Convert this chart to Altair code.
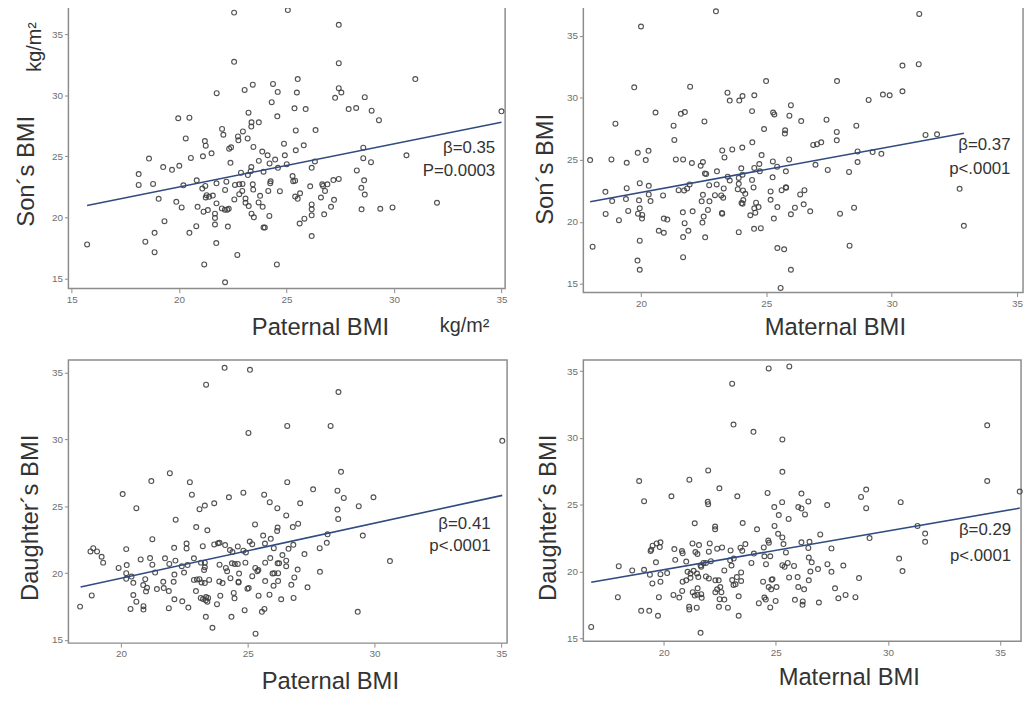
import altair as alt
import pandas as pd

FONT = "Liberation Sans"

# ---------------- Panel 1: Paternal BMI vs Son's BMI ----------------
p1_x = [22.56,25.06,27.43,22.56,27.43,25.52,30.99,21.75,23.05,23.43,
        24.37,24.59,25.48,27.43,27.55,27.26,28.64,24.31,25.37,25.89,
        27.89,28.24,28.96,35.0,23.23,19.96,20.48,24.57,29.3,22.0,
        23.37,23.71,23.36,22.06,22.74,23.19,22.97,25.43,26.35,20.31,
        21.2,22.76,24.88,25.8,21.24,23.46,22.42,22.33,21.51,28.57,
        23.87,24.12,24.92,25.43,18.6,20.55,21.11,30.58,23.71,24.47,
        28.57,28.93,26.32,22.39,24.21,25.01,19.26,19.67,20.01,24.6,
        23.36,26.17,23.33,23.93,18.12,28.27,22.88,23.2,25.28,27.43,
        27.18,28.61,20.82,22.2,25.31,24.26,25.4,18.12,18.79,20.2,
        21.08,21.22,21.74,22.6,22.8,22.95,23.43,24.24,23.45,22.14,
        22.94,22.8,24.15,24.69,26.1,26.66,26.7,26.9,26.79,28.48,
        25.63,28.64,21.28,21.4,21.57,21.24,22.57,23.09,23.77,25.4,
        25.52,26.6,19.05,27.21,19.87,21.74,23.09,23.24,23.7,26.17,
        20.12,20.86,23.89,27.07,29.93,29.36,32.0,28.49,21.14,21.34,
        21.99,22.13,22.24,22.31,26.17,21.67,23.37,24.2,26.17,26.75,
        21.67,23.48,25.83,19.32,25.61,20.8,21.67,22.27,23.93,23.99,
        18.86,20.48,26.17,18.43,21.73,15.72,18.86,22.71,21.17,24.55,22.14]
p1_y = [36.76,36.97,35.76,32.73,32.62,31.32,31.32,30.16,30.43,30.86,
        30.92,30.27,30.22,30.57,30.22,29.78,29.84,29.43,28.92,28.86,
        28.86,28.95,28.73,28.68,28.57,28.11,28.16,28.27,27.95,27.24,
        27.78,27.78,27.43,26.76,26.62,26.46,27.03,27.11,27.14,26.46,
        26.24,26.3,26.03,25.89,25.86,25.76,25.73,25.62,25.24,25.7,
        25.38,25.08,25.08,25.49,24.81,24.86,25.0,25.08,24.62,24.73,
        24.84,24.51,24.57,24.46,24.41,24.35,24.11,23.89,24.22,24.05,
        24.11,24.05,23.78,23.73,23.54,23.84,23.65,23.46,23.38,23.14,
        23.05,23.03,23.03,22.92,22.95,22.95,23.0,22.65,22.73,22.62,
        22.35,22.57,22.78,22.65,22.7,22.73,22.7,22.78,22.27,22.24,
        22.16,21.89,22.16,22.14,22.54,22.7,22.57,22.7,22.16,22.41,
        21.97,21.86,21.81,21.68,21.78,21.62,21.46,21.54,21.76,21.7,
        21.51,21.62,21.51,21.43,21.27,21.14,21.19,20.92,21.22,21.05,
        20.81,20.86,20.86,20.86,20.81,20.7,21.19,20.65,20.46,20.59,
        20.73,20.62,20.62,20.7,20.65,20.3,20.3,20.11,20.16,20.24,
        19.95,20.0,19.89,19.68,19.49,19.27,19.41,19.24,19.16,19.16,
        18.73,18.73,18.46,18.0,17.89,17.78,17.14,16.92,16.14,16.14,14.68]
p1_line_x = [15.72, 35.0]
p1_line_y = [20.97, 27.78]
p1_ann = ["β=0.35", "P=0.0003"]
p1_ann_x = [34.71, 34.71]
p1_ann_y = [25.67, 23.78]

# ---------------- Panel 2: Maternal BMI vs Son's BMI ----------------
p2_x = [22.99,20.0,31.1,30.43,31.08,19.73,21.96,24.99,27.82,23.45,
        24.05,24.52,23.54,23.92,29.08,29.65,29.92,30.43,25.98,20.58,
        21.59,21.75,24.43,25.27,25.32,25.92,26.39,27.4,18.98,22.53,
        21.3,24.91,25.75,25.74,28.59,27.81,31.35,31.81,21.33,27.81,
        24.44,26.87,27.02,27.19,23.64,24.04,19.87,20.3,23.24,23.33,
        24.81,28.64,29.24,29.59,17.97,18.82,19.43,20.19,21.39,21.68,
        22.03,22.47,22.38,24.72,25.26,25.91,24.52,24.74,25.43,25.78,
        28.64,26.96,27.45,28.3,23.03,22.55,22.6,23.46,24.0,23.9,
        24.05,25.25,24.43,23.9,23.54,19.95,20.31,21.94,23.02,22.72,
        21.84,21.72,21.5,19.43,23.3,23.86,24.49,25.61,25.78,25.79,
        26.52,26.35,25.17,24.07,24.16,18.58,20.31,32.71,22.47,23.2,
        22.95,23.28,19.4,18.85,19.92,20.38,22.42,22.73,24.08,24.05,
        24.01,24.59,25.17,25.44,24.52,24.69,26.14,26.49,28.5,22.67,
        22.06,21.67,19.49,19.95,19.88,18.59,20.05,20.04,20.88,20.91,
        21.05,19.12,22.5,22.45,23.23,23.24,24.36,24.56,25.3,25.98,
        26.75,27.94,21.74,20.71,20.91,21.89,23.9,24.51,24.78,32.88,
        19.95,21.68,22.56,18.07,28.32,25.44,25.71,21.68,19.86,19.95,25.98,25.57]
p2_y = [36.97,35.75,36.76,32.6,32.71,30.85,30.9,31.35,31.35,30.42,
        30.15,30.21,29.78,29.78,29.83,30.26,30.21,30.53,29.41,28.82,
        28.71,28.85,28.93,28.82,28.66,28.56,28.13,28.24,27.92,28.1,
        27.76,27.49,27.38,27.12,27.76,27.25,27.01,27.06,26.61,26.58,
        26.42,26.21,26.27,26.42,25.84,26.0,25.57,25.73,25.76,25.2,
        25.39,25.68,25.63,25.49,24.99,25.04,24.77,24.99,25.04,25.04,
        24.75,24.83,24.53,24.67,24.88,25.04,24.35,24.08,24.45,24.08,
        24.83,24.61,24.19,24.03,24.08,23.9,23.87,23.65,24.32,23.55,
        23.81,23.6,23.39,23.07,23.34,23.12,22.91,23.02,23.02,22.96,
        22.7,22.54,22.56,22.72,22.7,22.64,22.78,22.56,22.8,22.75,
        22.56,22.22,22.46,22.54,22.27,22.43,22.22,22.67,22.19,22.14,
        22.16,21.95,21.84,21.68,21.74,21.68,21.66,21.66,21.76,21.47,
        21.52,21.55,21.79,21.2,21.1,21.2,21.15,21.42,21.15,20.97,
        20.86,20.78,20.89,21.1,20.67,20.65,20.57,20.27,22.14,20.27,
        20.19,20.14,20.43,19.95,20.73,20.67,20.54,20.75,20.27,20.62,
        20.86,20.67,19.9,19.29,19.13,19.29,19.18,19.45,19.5,19.69,
        18.49,18.78,18.76,18.01,18.09,17.9,17.8,17.16,16.89,16.15,16.15,14.68]
p2_line_x = [17.97, 32.88]
p2_line_y = [21.63, 27.14]
p2_ann = ["β=0.37", "p<.0001"]
p2_ann_x = [34.74, 34.74]
p2_ann_y = [26.17, 24.27]

# ---------------- Panel 3: Paternal BMI vs Daughter's BMI ----------------
p3_x = [24.09,25.09,23.36,28.58,26.56,28.27,25.03,35.04,21.93,28.68,
        21.2,22.72,26.56,20.07,22.8,24.83,27.58,28.54,25.65,24.26,
        28.79,29.96,23.68,25.87,27.07,29.38,23.31,23.1,20.61,26.17,
        28.54,26.52,28.57,22.16,22.97,25.29,26.18,26.78,26.99,23.41,
        26.16,29.54,21.24,25.61,28.15,25.08,22.59,23.68,23.83,23.89,
        24.11,24.61,23.23,25.18,25.68,25.91,26.03,26.8,28.12,27.84,
        20.21,22.1,22.59,24.3,24.4,24.83,24.93,26.61,18.8,18.91,
        19.06,19.24,19.3,27.24,26.37,25.89,26.52,20.78,21.15,21.74,
        22.15,22.88,23.16,21.24,21.91,22.4,22.63,20.23,19.91,23.31,
        23.31,23.28,23.89,24.38,24.14,24.49,24.61,24.91,25.3,25.69,
        26.18,26.24,26.52,26.97,27.85,20.21,20.42,21.35,22.11,22.49,
        24.19,24.66,25.38,25.42,25.98,26.05,26.2,20.21,20.96,21.67,
        22.08,22.88,23.0,23.1,23.18,23.31,23.48,23.88,24.01,24.32,
        24.64,24.64,25.18,25.69,26.2,26.72,26.84,20.49,20.88,21.03,
        20.99,21.42,21.69,21.89,22.96,24.99,25.04,24.45,26.02,27.36,
        18.85,20.49,23.92,24.48,25.43,25.86,23.15,23.24,23.36,23.44,
        23.35,23.41,26.81,26.32,20.61,22.11,22.42,23.79,18.39,22.66,
        20.38,20.89,20.89,21.89,24.88,25.56,25.66,29.34,30.61,23.35,24.36,23.61,25.31]
p3_y = [35.35,35.2,34.09,33.54,31.0,31.0,30.48,29.89,27.47,27.57,
        26.88,26.8,26.8,25.91,25.86,26.01,26.26,26.16,25.86,25.67,
        25.62,25.67,25.22,25.3,25.22,25.0,25.05,24.78,24.85,24.85,
        24.75,24.31,24.04,23.99,23.44,23.64,23.4,23.44,23.69,23.2,
        23.15,22.8,22.53,22.8,22.9,22.36,22.21,22.14,22.23,22.26,
        22.09,21.99,22.01,22.16,22.21,22.56,21.86,22.11,22.26,21.86,
        21.79,21.89,21.84,21.72,21.57,21.67,21.54,21.81,21.62,21.86,
        21.62,21.22,20.78,21.42,21.35,21.12,20.93,21.02,21.12,21.1,
        20.93,21.1,20.78,20.63,20.68,20.51,20.6,20.6,20.38,20.78,
        20.43,20.23,20.63,20.73,20.38,20.68,20.68,20.78,20.38,20.78,
        20.73,20.73,20.51,20.26,20.09,19.99,19.74,20.04,19.89,20.04,
        20.14,19.96,20.14,20.23,19.96,19.99,19.99,19.57,19.54,19.35,
        19.35,19.49,19.52,19.54,19.3,19.25,19.49,19.37,19.25,19.62,
        19.35,19.3,19.77,19.4,19.4,19.12,19.67,19.27,19.1,18.9,
        18.63,18.8,18.88,18.65,18.65,18.83,18.88,18.51,19.05,18.93,
        18.33,18.36,18.31,18.11,18.31,18.38,18.14,18.06,18.21,18.14,
        17.96,17.86,18.14,18.04,17.86,18.04,17.89,17.67,17.49,17.42,
        17.32,17.52,17.27,17.37,17.22,17.1,17.32,17.1,20.9,16.73,16.73,15.91,15.47]
p3_line_x = [18.41, 35.04]
p3_line_y = [18.95, 25.81]
p3_ann = ["β=0.41", "p<.0001"]
p3_ann_x = [34.58, 34.58]
p3_ann_y = [23.64, 21.99]

# ---------------- Panel 4: Maternal BMI vs Daughter's BMI ----------------
p4_x = [24.68,25.6,23.05,23.11,24.0,34.43,25.29,25.29,21.98,18.9,
        21.14,34.43,22.48,35.88,29.03,20.34,23.28,24.63,26.14,28.8,
        19.12,21.96,21.98,25.28,26.45,27.29,30.57,24.93,26.0,26.14,
        26.3,25.13,25.57,29.03,21.38,23.52,22.29,22.29,24.16,24.94,
        31.32,31.66,31.66,26.98,25.1,25.29,29.18,24.66,24.69,25.34,
        26.14,26.5,26.45,27.48,19.5,19.68,19.85,19.82,19.44,19.41,
        20.47,20.81,20.84,21.28,21.57,22.05,22.38,22.6,22.98,23.42,
        23.64,23.5,21.41,21.5,22.01,24.02,24.46,24.49,24.75,25.45,
        25.53,26.47,26.6,27.3,28.01,30.5,30.65,20.51,21.0,19.65,
        17.99,18.59,19.12,19.38,19.85,20.15,21.06,21.19,21.33,21.48,
        21.64,21.67,21.77,21.88,22.1,22.7,22.96,23.02,23.12,23.45,
        23.91,24.56,25.29,25.39,25.81,26.54,26.88,27.48,19.49,19.85,
        21.54,21.0,21.19,21.88,22.01,22.3,22.45,23.05,23.26,23.45,
        23.11,23.2,24.43,24.81,24.85,25.59,25.97,26.47,28.71,20.84,
        20.43,20.69,17.95,19.78,21.29,21.38,21.5,21.67,21.51,20.82,
        21.69,22.3,22.38,22.52,22.57,22.49,22.7,23.34,24.49,24.55,
        24.68,24.79,24.99,25.03,25.85,26.0,26.26,26.2,26.19,26.92,
        27.64,27.79,28.11,28.55,24.24,24.75,22.46,22.86,21.13,21.14,
        21.47,18.99,19.35,19.74,23.34,16.76,21.64]
p4_y = [35.2,35.35,34.06,31.0,30.46,30.95,29.89,27.47,27.57,26.78,
        26.88,26.78,26.23,25.99,26.14,25.64,25.64,25.89,25.84,25.59,
        25.27,25.22,25.05,25.2,25.25,24.98,25.2,24.83,24.83,24.73,
        24.28,24.23,23.94,24.75,23.62,23.64,23.37,23.17,23.17,23.42,
        23.42,22.85,22.23,22.78,22.83,22.56,22.51,22.33,22.16,22.06,
        22.19,22.23,21.77,21.74,21.94,22.11,22.19,21.84,21.64,21.54,
        21.69,21.54,21.37,22.11,21.99,22.11,21.72,21.81,21.59,21.79,
        22.06,21.57,21.47,21.32,21.49,21.35,21.81,21.15,21.15,21.44,
        20.65,21.05,20.7,20.56,20.46,20.98,20.04,20.88,20.75,20.7,
        20.41,20.09,20.14,19.77,19.81,19.89,19.99,19.86,20.06,19.86,
        20.46,20.36,20.65,20.65,20.78,20.09,20.85,20.46,20.98,19.94,
        20.65,20.56,20.48,20.36,20.43,20.01,20.19,19.99,19.12,19.25,
        19.59,19.35,19.54,19.64,19.49,19.35,19.35,19.37,19.59,19.3,
        19.0,19.05,19.25,19.4,19.44,19.57,19.59,19.35,19.52,19.25,
        18.26,18.06,18.09,18.09,18.46,18.21,18.28,18.31,18.75,18.56,
        18.04,18.46,18.68,18.85,18.46,17.94,17.91,18.16,18.06,17.91,
        18.85,18.68,17.81,18.85,17.89,18.85,18.68,17.77,17.52,17.69,
        18.75,18.01,18.26,18.09,17.64,17.32,17.37,17.3,17.37,17.17,
        17.3,17.07,17.07,16.7,16.7,15.86,15.42]
p4_line_x = [16.76, 35.88]
p4_line_y = [19.2, 24.75]
p4_ann = ["β=0.29", "p<.0001"]
p4_ann_x = [35.5, 35.5]
p4_ann_y = [23.1, 21.17]

y_ticks = [15, 20, 25, 30, 35]

for a, b in [(p1_x, p1_y), (p2_x, p2_y), (p3_x, p3_y), (p4_x, p4_y)]:
    assert len(a) == len(b), (len(a), len(b))

POINT_COLOR = "#404040"
LINE_COLOR = "#2f4b80"
TEXT_COLOR = "#333333"


def panel(xs, ys, lx, ly, ann, ax, ay, xdom, ydom, xticks, w, h,
          xtitle, ytitle, xt_x, xt_y, yt_x, yt_y, extras=None):
    xscale = alt.Scale(domain=xdom, nice=False, zero=False)
    yscale = alt.Scale(domain=ydom, nice=False, zero=False)
    xaxis = alt.Axis(values=xticks, title=xtitle, titleX=xt_x, titleY=xt_y,
                     titleAlign="center", titleBaseline="alphabetic")
    yaxis = alt.Axis(values=y_ticks, title=ytitle, titleX=yt_x, titleY=yt_y,
                     titleAngle=270, titleAlign="center", titleBaseline="middle")
    X = alt.X("x:Q", scale=xscale, axis=xaxis)
    Y = alt.Y("y:Q", scale=yscale, axis=yaxis)
    pts = alt.Chart(pd.DataFrame({"x": xs, "y": ys})).mark_point(
        shape="circle", filled=False, size=24, strokeWidth=1.15,
        color=POINT_COLOR, opacity=0.9
    ).encode(x=X, y=Y)
    line = alt.Chart(pd.DataFrame({"x": lx, "y": ly})).mark_line(
        color=LINE_COLOR, strokeWidth=1.6
    ).encode(x=X, y=Y)
    txt = alt.Chart(pd.DataFrame({"x": ax, "y": ay, "t": ann})).mark_text(
        align="right", baseline="middle", fontSize=17, font=FONT, color=TEXT_COLOR
    ).encode(x=X, y=Y, text="t:N")
    layers = [pts, line, txt]
    if extras:
        layers += extras
    return alt.layer(*layers).properties(width=w, height=h)


unit_df = pd.DataFrame({"t": ["kg/m²"]})
kg_left = alt.Chart(unit_df).mark_text(
    angle=270, fontSize=20, font=FONT, color=TEXT_COLOR, align="center", baseline="middle"
).encode(x=alt.value(-34), y=alt.value(40), text="t:N")
kg_bottom = alt.Chart(unit_df).mark_text(
    fontSize=20, font=FONT, color=TEXT_COLOR, align="center", baseline="alphabetic"
).encode(x=alt.value(400), y=alt.value(328), text="t:N")

c1 = panel(p1_x, p1_y, p1_line_x, p1_line_y, p1_ann, p1_ann_x, p1_ann_y,
           [14.85, 35.17], [14.16, 37.19], [15, 20, 25, 30, 35], 441, 284,
           "Paternal BMI", "Son´s BMI", 254, 46, -42, 165,
           extras=[kg_left, kg_bottom])
c2 = panel(p2_x, p2_y, p2_line_x, p2_line_y, p2_ann, p2_ann_x, p2_ann_y,
           [17.70, 35.24], [14.31, 37.29], [20, 25, 30, 35], 444, 288,
           "Maternal BMI", "Son´s BMI", 254, 42, -38, 163)
c3 = panel(p3_x, p3_y, p3_line_x, p3_line_y, p3_ann, p3_ann_x, p3_ann_y,
           [17.93, 35.23], [14.76, 35.94], [20, 25, 30, 35], 443, 286,
           "Paternal BMI", "Daughter´s BMI", 264, 46, -38, 159)
c4 = panel(p4_x, p4_y, p4_line_x, p4_line_y, p4_ann, p4_ann_x, p4_ann_y,
           [16.41, 35.94], [14.8, 35.84], [20, 25, 30, 35], 442, 284,
           "Maternal BMI", "Daughter´s BMI", 268, 44, -35, 159)

chart = alt.concat(
    c1, c2, c3, c4, columns=2, spacing={"row": 68, "column": 77},
    bounds="flush", align="none"
).properties(
    padding={"left": 6, "top": -7, "right": 0, "bottom": -5}
).configure(
    font=FONT
).configure_view(
    stroke="#8c8c8c", strokeWidth=1.5
).configure_axis(
    domain=False, grid=False, ticks=True, tickColor="#8c8c8c", tickSize=4,
    tickWidth=1, labelColor="#6e6e6e", labelFontSize=10, labelFont=FONT,
    labelPadding=2, titleFont=FONT, titleFontSize=24, titleFontWeight="normal",
    titleColor=TEXT_COLOR
)

chart.save("out.html", embed_options={"renderer": "svg", "actions": False})
